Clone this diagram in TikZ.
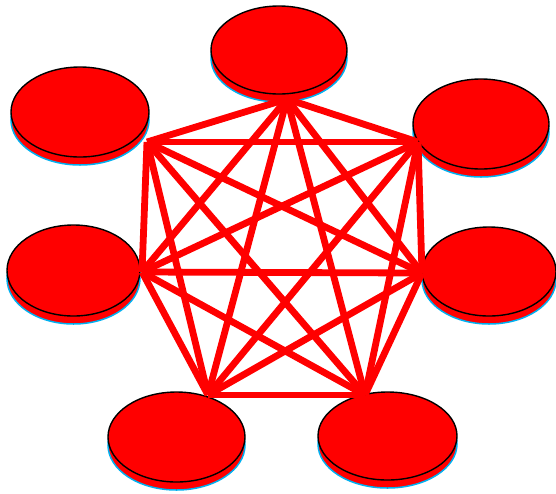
\documentclass[tikz,border=0pt]{standalone}
\usetikzlibrary{shapes.geometric}
\definecolor{dred}{RGB}{255,0,0}
\definecolor{dcyan}{RGB}{0,176,240}
\tikzset{
  disktop/.style={ellipse, fill=dred, draw=black, line width=1.4pt, inner sep=0pt},
  diskside/.style={ellipse, fill=dred, draw=dcyan, line width=1.5pt, inner sep=0pt},
  edgeline/.style={draw=dred, line width=6.8pt}
}
\newcommand\mydisk[5]{%
  \node[diskside, minimum width=#4pt, minimum height=#5pt] (#1s) at (#2,#3+8) {};
  \node[disktop, minimum width=#4pt, minimum height=#5pt] (#1) at (#2,#3) {};
}
\begin{document}
\begin{tikzpicture}[x=1pt,y=-1pt]
\useasboundingbox (0,0) rectangle (556,493);
\mydisk{e1}{279}{50}{136}{88}
\mydisk{e2}{80}{112}{138}{90}
\mydisk{e3}{481}{124}{136}{90}
\mydisk{e4}{73.5}{270.5}{133}{91}
\mydisk{e5}{489}{271.5}{134}{89}
\mydisk{e6}{176.5}{437}{137}{90}
\mydisk{e7}{387.5}{436}{139}{88}
\coordinate (v1) at (287,99);
\coordinate (v2) at (147,142);
\coordinate (v3) at (418,142);
\coordinate (v4) at (142,272);
\coordinate (v5) at (422,273);
\coordinate (v6) at (208,395);
\coordinate (v7) at (365,395);
\foreach \a/\b in {v1/v2,v1/v3,v1/v4,v1/v5,v1/v6,v1/v7,
                   v2/v3,v2/v4,v2/v5,v2/v6,v2/v7,
                   v3/v4,v3/v5,v3/v6,v3/v7,
                   v4/v5,v4/v6,v4/v7,
                   v5/v6,v5/v7,
                   v6/v7}
  \draw[edgeline] (\a) -- (\b);
\end{tikzpicture}
\end{document}
